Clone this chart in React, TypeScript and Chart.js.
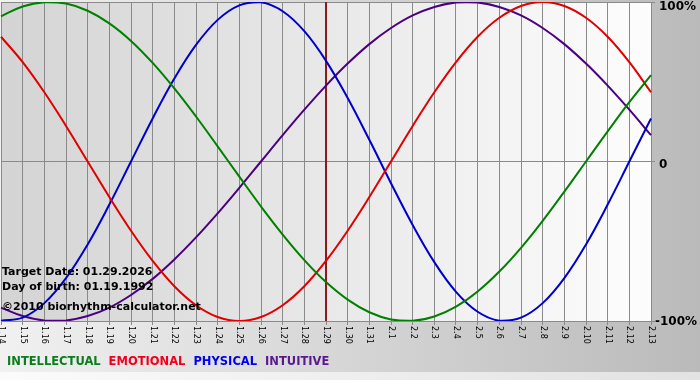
import React, { useEffect, useRef } from "react";
import { Chart, registerables } from "chart.js";

Chart.register(...registerables);

const dayLabels = [
  "1.14", "1.15", "1.16", "1.17", "1.18", "1.19", "1.20", "1.21", "1.22", "1.23",
  "1.24", "1.25", "1.26", "1.27", "1.28", "1.29", "1.30", "1.31", "2.1", "2.2",
  "2.3", "2.4", "2.5", "2.6", "2.7", "2.8", "2.9", "2.10", "2.11", "2.12", "2.13",
];

const intellectual = [
  91.0, 97.2, 99.9, 99.0, 94.5, 86.6, 75.6, 61.8, 45.8, 28.2,
  9.5, -9.5, -28.2, -45.8, -61.8, -75.6, -86.6, -94.5, -99.0, -99.9,
  -97.2, -91.0, -81.5, -69.0, -54.1, -37.2, -18.9, 0, 18.9, 37.2, 54.1,
];

const emotional = [
  78.2, 62.3, 43.4, 22.3, 0, -22.3, -43.4, -62.3, -78.2, -90.1,
  -97.5, -100, -97.5, -90.1, -78.2, -62.3, -43.4, -22.3, 0, 22.3,
  43.4, 62.3, 78.2, 90.1, 97.5, 100, 97.5, 90.1, 78.2, 62.3, 43.4,
];

const physical = [
  -99.8, -97.9, -88.8, -73.1, -52.0, -27.0, 0, 27.0, 52.0, 73.1,
  88.8, 97.9, 99.8, 94.2, 81.7, 63.1, 39.8, 13.6, -13.6, -39.8,
  -63.1, -81.7, -94.2, -99.8, -97.9, -88.8, -73.1, -52.0, -27.0, 0, 27.0,
];

const intuitive = [
  -91.6, -96.9, -99.7, -99.7, -96.9, -91.6, -83.7, -73.6, -61.4, -47.6,
  -32.5, -16.5, 0, 16.5, 32.5, 47.6, 61.4, 73.6, 83.7, 91.6,
  96.9, 99.7, 99.7, 96.9, 91.6, 83.7, 73.6, 61.4, 47.6, 32.5, 16.5,
];

const yTickLabels = ["100%", "0", "-100%"];
const targetLabel = "1.29";
const infoLines = [
  "Target Date: 01.29.2026",
  "Day of birth: 01.19.1992",
  "\u00a92010 biorhythm-calculator.net",
];
const legendNames = ["INTELLECTUAL", "EMOTIONAL", "PHYSICAL", "INTUITIVE"];

const lineColors = ["#008000", "#e00000", "#0000cc", "#4b0082"];
const legendColors = ["#0a7d1e", "#f0001c", "#0000ee", "#5a1890"];

const FONT = "'DejaVu Sans', Verdana, sans-serif";

const decorPlugin = {
  id: "decor",
  beforeDraw(chart: any) {
    const { ctx, chartArea: a, width, height } = chart;
    ctx.save();
    const g = ctx.createLinearGradient(0, 0, width, 0);
    g.addColorStop(0, "#f1f1f1");
    g.addColorStop(1, "#bababa");
    ctx.fillStyle = g;
    ctx.fillRect(0, 0, width, height);
    const g2 = ctx.createLinearGradient(0, 0, width, 0);
    g2.addColorStop(0, "#fbfbfb");
    g2.addColorStop(1, "#e2e2e2");
    ctx.fillStyle = g2;
    ctx.fillRect(0, 372, width, height - 372);
    const g3 = ctx.createLinearGradient(a.left, 0, a.right, 0);
    g3.addColorStop(0, "#d4d4d4");
    g3.addColorStop(1, "#fdfdfd");
    ctx.fillStyle = g3;
    ctx.fillRect(a.left, a.top, a.right - a.left, a.bottom - a.top);
    ctx.restore();
  },
  beforeDatasetsDraw(chart: any) {
    const { ctx, chartArea: a } = chart;
    const xs = chart.scales.x;
    const x = xs.getPixelForValue(dayLabels.indexOf(targetLabel));
    ctx.save();
    ctx.strokeStyle = "#8b1a1a";
    ctx.lineWidth = 2;
    ctx.beginPath();
    ctx.moveTo(x, a.top);
    ctx.lineTo(x, a.bottom);
    ctx.stroke();
    ctx.restore();
  },
  afterDraw(chart: any) {
    const { ctx, chartArea: a } = chart;
    const xs = chart.scales.x;
    const ys = chart.scales.y;
    ctx.save();
    // x labels rotated clockwise
    ctx.fillStyle = "#000";
    ctx.font = `8px ${FONT}`;
    ctx.textAlign = "left";
    ctx.textBaseline = "middle";
    dayLabels.forEach((lab, i) => {
      const x = xs.getPixelForValue(i);
      ctx.save();
      ctx.translate(x, a.bottom + 5);
      ctx.rotate(Math.PI / 2);
      ctx.fillText(lab, 0, 0);
      ctx.restore();
    });
    // y labels
    ctx.font = `bold 12px ${FONT}`;
    ctx.textAlign = "left";
    const yVals = [100, 0, -100];
    const yOff = [5, 3, 1];
    yTickLabels.forEach((lab, i) => {
      const y = ys.getPixelForValue(yVals[i]) + yOff[i];
      const x = lab.startsWith("-") ? a.right + 4 : a.right + 8;
      ctx.fillText(lab, x, y);
    });
    // info text
    ctx.font = `bold 11px ${FONT}`;
    const infoY = [272, 287, 307];
    infoLines.forEach((t, i) => ctx.fillText(t, 2, infoY[i]));
    // legend
    ctx.font = `bold 11.5px ${FONT}`;
    let lx = 7;
    legendNames.forEach((n, i) => {
      ctx.fillStyle = legendColors[i];
      ctx.fillText(n, lx, 362);
      lx += ctx.measureText(n).width + 8;
    });
    ctx.restore();
  },
};

export default function App() {
  const ref = useRef<HTMLCanvasElement | null>(null);
  useEffect(() => {
    if (!ref.current) return;
    const grid = "#8a8a8a";
    const chart = new Chart(ref.current, {
      type: "line",
      data: {
        labels: dayLabels,
        datasets: [
          { label: legendNames[0], data: intellectual, borderColor: lineColors[0] },
          { label: legendNames[1], data: emotional, borderColor: lineColors[1] },
          { label: legendNames[2], data: physical, borderColor: lineColors[2] },
          { label: legendNames[3], data: intuitive, borderColor: lineColors[3] },
        ].map((d) => ({ ...d, borderWidth: 2, pointRadius: 0, tension: 0.4, fill: false })),
      },
      options: {
        animation: false,
        responsive: false,
        devicePixelRatio: 1,
        layout: { padding: { left: 1, top: 2, right: 0, bottom: 0 } },
        plugins: { legend: { display: false }, tooltip: { enabled: false } },
        scales: {
          x: {
            type: "category",
            offset: false,
            grid: { color: grid, lineWidth: 1, drawTicks: true, tickLength: 4, offset: false },
            border: { color: grid },
            ticks: { display: false, autoSkip: false },
            afterFit: (s: any) => { s.height = 59; },
          },
          y: {
            position: "right",
            min: -100,
            max: 100,
            grid: { color: grid, lineWidth: 1, drawTicks: true, tickLength: 4 },
            border: { color: grid },
            ticks: { display: false, stepSize: 100 },
            afterFit: (s: any) => { s.width = 49; },
          },
        },
      },
      plugins: [decorPlugin],
    });
    return () => chart.destroy();
  }, []);
  return (
    <div style={{ position: "fixed", left: 0, top: 0, width: 700, height: 380 }}>
      <canvas ref={ref} width={700} height={380} />
    </div>
  );
}
